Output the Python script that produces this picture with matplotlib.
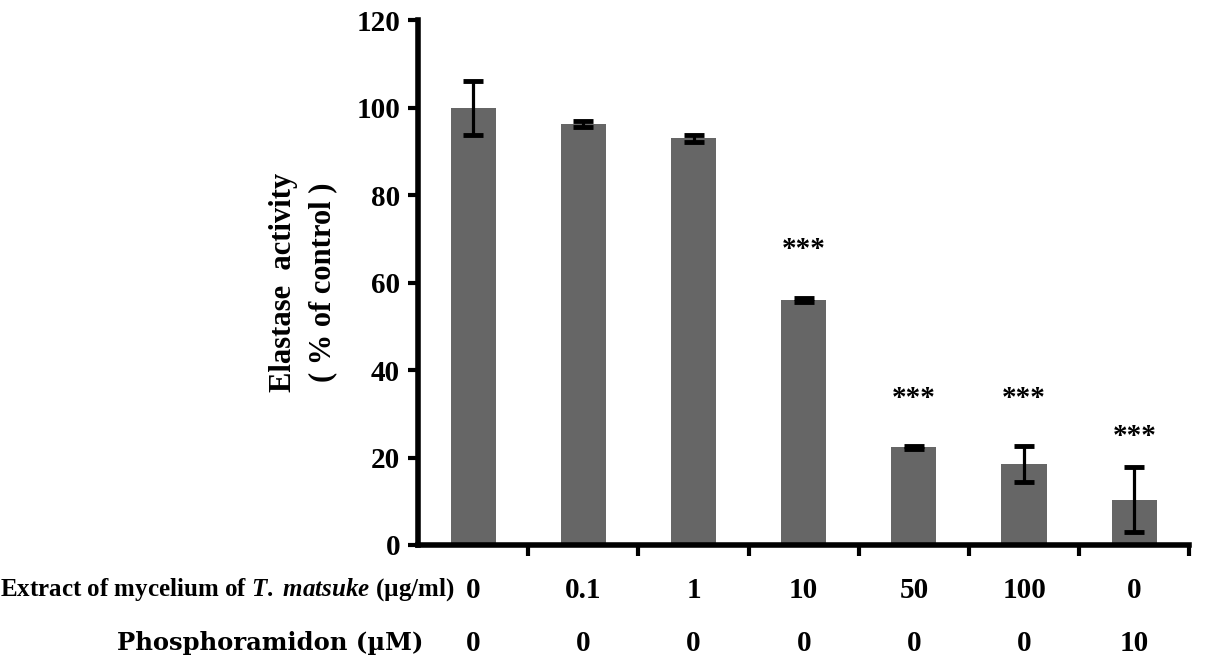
import matplotlib
matplotlib.use('Agg')
import matplotlib.pyplot as plt
import numpy as np

# data
extract_labels = ['0', '0.1', '1', '10', '50', '100', '0']
phospho_labels = ['0', '0', '0', '0', '0', '0', '10']
activity = [100.0, 96.2, 93.0, 56.0, 22.3, 18.6, 10.4]
errors = [6.2, 0.7, 0.8, 0.5, 0.3, 4.1, 7.5]
stars = ['', '', '', '***', '***', '***', '***']
star_pos = [0, 0, 0, 67.5, 33.5, 33.5, 24.8]

plt.rcParams['font.family'] = ['Liberation Serif', 'DejaVu Serif']
plt.rcParams['font.weight'] = 'bold'
plt.rcParams['mathtext.fontset'] = 'custom'
plt.rcParams['mathtext.it'] = 'Liberation Serif:italic:bold'
plt.rcParams['mathtext.rm'] = 'Liberation Serif:bold'

fig = plt.figure(figsize=(12.05, 6.72), dpi=100)
ax = fig.add_axes([0.347, 0.189, 0.640, 0.781])

x = np.arange(len(activity))
ax.bar(x, activity, width=0.41, color='#666666', zorder=2)
ax.errorbar(x, activity, yerr=errors, fmt='none', ecolor='black',
            elinewidth=2.3, capsize=7, capthick=3.5, zorder=3)

for xi, s, p in zip(x, stars, star_pos):
    if s:
        ax.text(xi, p, s, ha='center', va='center', fontsize=21, fontweight='bold')

ax.set_xlim(-0.5, len(activity) - 0.5)
ax.set_ylim(0, 120)
ax.set_yticks(np.arange(0, 121, 20))
ax.tick_params(axis='y', labelsize=21, width=3, length=7, pad=6)
ax.set_xticks(np.arange(0.5, len(activity), 1))
ax.set_xticklabels([])
ax.tick_params(axis='x', width=3, length=8)
for lab in ax.get_yticklabels():
    lab.set_fontweight('bold')

ax.spines['top'].set_visible(False)
ax.spines['right'].set_visible(False)
ax.spines['left'].set_linewidth(4)
ax.spines['bottom'].set_linewidth(4)

ax.set_ylabel('Elastase  activity\n( % of control )', fontsize=22,
              fontweight='bold', labelpad=14, linespacing=1.45)

trans = ax.get_xaxis_transform()
for xi, a, b in zip(x, extract_labels, phospho_labels):
    ax.text(xi, -0.086, a, transform=trans, ha='center', va='center',
            fontsize=21, fontweight='bold')
    ax.text(xi, -0.187, b, transform=trans, ha='center', va='center',
            fontsize=21, fontweight='bold')

fig.text(455 / 1205, 1 - 590 / 672,
         r'Extract of mycelium of $T.$ $matsuke$ (µg/ml)',
         ha='right', va='center', fontsize=18, fontweight='bold')
fig.text(423 / 1205, 1 - 643 / 672, 'Phosphoramidon (µM)',
         ha='right', va='center', fontsize=17.5, fontweight='bold',
         family='DejaVu Serif')

fig.savefig('out.png', dpi=100)
